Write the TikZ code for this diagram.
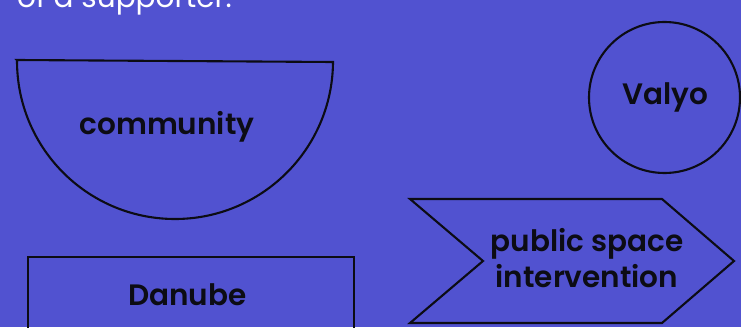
\documentclass[tikz,border=0pt]{standalone}
\usepackage{fontspec}
\setmainfont{Poppins}[BoldFont={Poppins SemiBold}]
\definecolor{bgblue}{RGB}{81,82,208}
\definecolor{ink}{RGB}{12,12,20}
\begin{document}
\begin{tikzpicture}[x=1pt,y=1pt,
  outline/.style={draw=ink,line width=2.1pt},
  label/.style={text=ink,font=\fontsize{29.5}{36}\selectfont\bfseries,align=center,inner sep=0pt}]
\useasboundingbox (0,0) rectangle (741,327);
\fill[bgblue] (0,0) rectangle (741,327);
\clip (0,0) rectangle (741,327);
% top text
\node[anchor=base west,text=white,font=\fontsize{29.5}{34}\selectfont,inner sep=0pt] (toptext) at (17,319) {of a supporter.};
% semicircle
\draw[outline] (17,267) -- (333,265) arc[start angle=-0.36,end angle=-180.36,radius=158] -- cycle;
\node[label] (community) at (167,200) {community};
% circle
\draw[outline] (664.5,229.5) circle[radius=75.5];
\node[label] (valyo) at (665,230) {Valyo};
% signal
\draw[outline] (410,128) -- (662,128) -- (734,66) -- (662,4) -- (410,4) -- (483,66) -- cycle;
\node[label] (psi) at (587,69) {public space\\intervention};
% rectangle
\draw[outline] (28,70) rectangle (354,-10);
\node[label] (danube) at (187.5,32) {Danube};
\end{tikzpicture}
\end{document}
